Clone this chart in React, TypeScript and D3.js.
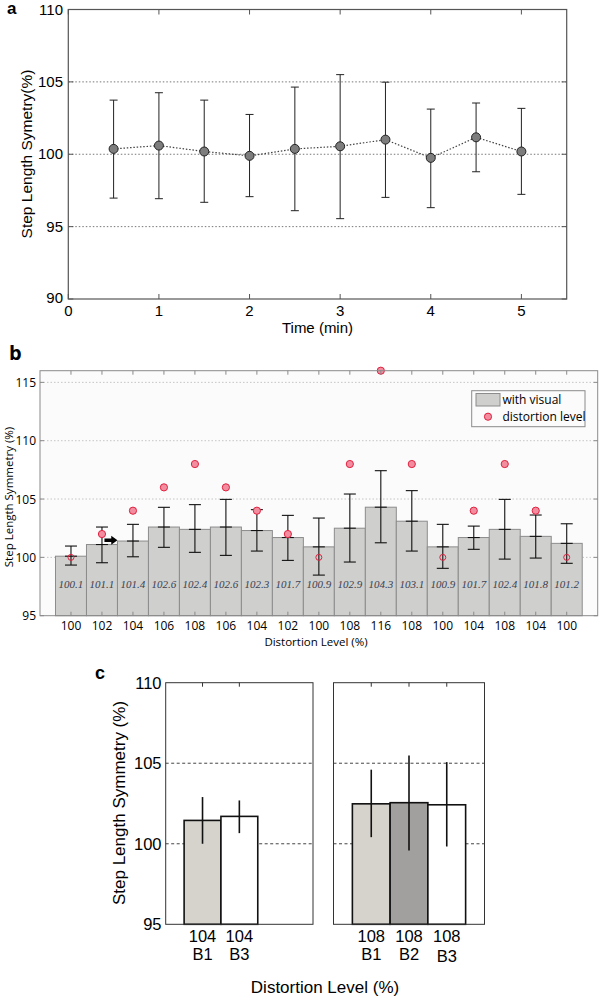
import React from "react";
import * as d3 from "d3";

// ---------- Panel a data ----------
const timeMin = [0.5, 1, 1.5, 2, 2.5, 3, 3.5, 4, 4.5, 5];
const meanA = [100.37, 100.6, 100.19, 99.89, 100.37, 100.55, 101.01, 99.75, 101.17, 100.19];
const upperA = [103.74, 104.25, 103.74, 102.75, 104.64, 105.5, 104.98, 103.12, 103.54, 103.17];
const lowerA = [96.97, 96.93, 96.68, 97.07, 96.1, 95.55, 97.02, 96.31, 98.79, 97.23];
const xTicksA = [0, 1, 2, 3, 4, 5];
const yTicksA = [90, 95, 100, 105, 110];
const gridA = [95, 100, 105];

// ---------- Panel b data ----------
const levelLabels = ["100", "102", "104", "106", "108", "106", "104", "102", "100", "108", "116", "108", "100", "104", "108", "104", "100"];
const distortionLevel = [100, 102, 104, 106, 108, 106, 104, 102, 100, 108, 116, 108, 100, 104, 108, 104, 100];
const barB = [100.1, 101.1, 101.4, 102.6, 102.4, 102.6, 102.3, 101.7, 100.9, 102.5, 104.3, 103.1, 100.9, 101.7, 102.4, 101.8, 101.2];
const barTextB = ["100.1", "101.1", "101.4", "102.6", "102.4", "102.6", "102.3", "101.7", "100.9", "102.9", "104.3", "103.1", "100.9", "101.7", "102.4", "101.8", "101.2"];
const upperB = [100.97, 102.6, 102.83, 104.29, 104.52, 104.97, 104.09, 103.6, 103.37, 105.43, 107.43, 105.72, 102.83, 102.68, 104.97, 103.63, 102.88];
const lowerB = [99.34, 99.54, 100.05, 100.86, 100.43, 100.17, 100.54, 99.74, 98.48, 99.6, 101.25, 100.54, 99.06, 100.69, 99.85, 99.94, 99.49];
const yTicksB = [95, 100, 105, 110, 115];
const gridB = [100, 105, 110, 115];

// ---------- Panel c data ----------
const c1Level = ["104", "104"];
const c1Block = ["B1", "B3"];
const c1Mean = [101.45, 101.7];
const c1Upper = [102.9, 102.69];
const c1Lower = [100.0, 100.66];
const c2Level = ["108", "108", "108"];
const c2Block = ["B1", "B2", "B3"];
const c2Mean = [102.48, 102.55, 102.42];
const c2Upper = [104.6, 105.48, 105.07];
const c2Lower = [100.41, 99.58, 99.83];
const blockColor: Record<string, string> = { B1: "#d6d3cc", B2: "#a2a09f", B3: "#ffffff" };
const yTicksC = [95, 100, 105, 110];
const gridC = [100, 105];

const ARIAL = "'Liberation Sans', Arial, sans-serif";
const MYRIAD = "'Open Sans', 'Noto Sans', sans-serif";
const SERIF = "'Liberation Serif', 'Times New Roman', serif";

function PanelA() {
  const x = d3.scaleLinear().domain([0, 5.5]).range([68.3, 566.7]);
  const y = d3.scaleLinear().domain([90, 110]).range([299, 9.5]);
  const [x0, x1] = x.range();
  const [yb, yt] = y.range();
  const line = d3
    .line<number>()
    .x((_, i) => x(timeMin[i]))
    .y((d) => y(d));
  return (
    <g>
      <text x={7} y={14} fontFamily={ARIAL} fontWeight="bold" fontSize={17}>a</text>
      {gridA.map((v) => (
        <line key={v} x1={x0} x2={x1} y1={y(v)} y2={y(v)} stroke="#777" strokeWidth={1} strokeDasharray="1.5,2" />
      ))}
      <rect x={x0} y={yt} width={x1 - x0} height={yb - yt} fill="none" stroke="#555" strokeWidth={1.2} />
      {xTicksA.map((t) => (
        <g key={t}>
          <line x1={x(t)} x2={x(t)} y1={yb} y2={yb - 5} stroke="#555" />
          <line x1={x(t)} x2={x(t)} y1={yt} y2={yt + 5} stroke="#555" />
          <text x={x(t)} y={316} textAnchor="middle" fontFamily={ARIAL} fontSize={15}>{t}</text>
        </g>
      ))}
      {yTicksA.map((t) => (
        <g key={t}>
          <line x1={x0} x2={x0 + 5} y1={y(t)} y2={y(t)} stroke="#555" />
          <line x1={x1} x2={x1 - 5} y1={y(t)} y2={y(t)} stroke="#555" />
          <text x={63} y={t === 90 ? y(t) + 4 : y(t) + 5} textAnchor="end" fontFamily={ARIAL} fontSize={15}>{t}</text>
        </g>
      ))}
      <text x={317.5} y={333} textAnchor="middle" fontFamily={ARIAL} fontSize={15}>Time (min)</text>
      <text transform={`translate(32,154) rotate(-90)`} textAnchor="middle" fontFamily={ARIAL} fontSize={15.5}>Step Length Symetry(%)</text>
      {meanA.map((m, i) => (
        <g key={i}>
          <line x1={x(timeMin[i])} x2={x(timeMin[i])} y1={y(upperA[i])} y2={y(lowerA[i])} stroke="#222" strokeWidth={1} />
          <line x1={x(timeMin[i]) - 4} x2={x(timeMin[i]) + 4} y1={y(upperA[i])} y2={y(upperA[i])} stroke="#222" />
          <line x1={x(timeMin[i]) - 4} x2={x(timeMin[i]) + 4} y1={y(lowerA[i])} y2={y(lowerA[i])} stroke="#222" />
        </g>
      ))}
      <path d={line(meanA) || ""} fill="none" stroke="#444" strokeWidth={1.2} strokeDasharray="1.5,1.8" />
      {meanA.map((m, i) => (
        <circle key={i} cx={x(timeMin[i])} cy={y(m)} r={4.5} fill="#7d7d7d" stroke="#222" strokeWidth={1} />
      ))}
    </g>
  );
}

function PanelB() {
  const x = d3.scaleLinear().domain([0, 18]).range([40, 597.7]);
  const y = d3.scaleLinear().domain([95, 116]).range([615.7, 370.7]);
  const [x0, x1] = x.range();
  const [yb, yt] = y.range();
  const bw = x(1) - x(0);
  const idx = d3.range(barB.length);
  return (
    <g>
      <text x={9} y={360} fontFamily={MYRIAD} fontWeight="bold" fontSize={20}>b</text>
      <rect x={x0} y={yt} width={x1 - x0} height={yb - yt} fill="#fbfbfb" />
      {gridB.map((v) => (
        <line key={v} x1={x0} x2={x1} y1={y(v)} y2={y(v)} stroke="#b8b8b8" strokeWidth={0.8} strokeDasharray="1.5,2" />
      ))}
      {idx.map((i) => (
        <rect key={i} x={x(i + 0.5)} y={y(barB[i])} width={bw} height={yb - y(barB[i])} fill="#cfcfcd" stroke="#8c8c8c" strokeWidth={1} />
      ))}
      {idx.map((i) => (
        <text key={i} x={x(i + 1)} y={588} textAnchor="middle" fontFamily={SERIF} fontStyle="italic" fontSize={11} fill="#3b4150">{barTextB[i]}</text>
      ))}
      {idx.map((i) => {
        const cx = x(i + 1);
        return (
          <g key={i}>
            <line x1={cx} x2={cx} y1={y(upperB[i])} y2={y(lowerB[i])} stroke="#111" strokeWidth={1.1} />
            <line x1={cx - 6} x2={cx + 6} y1={y(upperB[i])} y2={y(upperB[i])} stroke="#111" strokeWidth={1.1} />
            <line x1={cx - 6} x2={cx + 6} y1={y(lowerB[i])} y2={y(lowerB[i])} stroke="#111" strokeWidth={1.1} />
            <line x1={cx - 6} x2={cx + 6} y1={y(barB[i])} y2={y(barB[i])} stroke="#111" strokeWidth={1.1} />
          </g>
        );
      })}
      {idx.map((i) => {
        const inside = distortionLevel[i] < barB[i];
        return (
          <circle key={i} cx={x(i + 1)} cy={y(distortionLevel[i])} r={inside ? 3 : 3.6}
            fill={inside ? "none" : "#f28da0"} stroke="#e0203f" strokeWidth={1} />
        );
      })}
      {/* arrow annotation */}
      <path
        d={`M${x(2.08)},${y(101.47) - 1.8} L${x(2.3)},${y(101.47) - 1.8} L${x(2.3)},${y(101.47) - 4.5} L${x(2.5)},${y(101.47)} L${x(2.3)},${y(101.47) + 4.5} L${x(2.3)},${y(101.47) + 1.8} L${x(2.08)},${y(101.47) + 1.8} Z`}
        fill="#000"
      />
      <rect x={x0} y={yt} width={x1 - x0} height={yb - yt} fill="none" stroke="#8a8a8a" strokeWidth={1} />
      {idx.map((i) => (
        <g key={i}>
          <line x1={x(i + 1)} x2={x(i + 1)} y1={yt} y2={yt + 4} stroke="#8a8a8a" />
          <line x1={x(i + 1)} x2={x(i + 1)} y1={yb} y2={yb - 4} stroke="#8a8a8a" />
          <text x={x(i + 1)} y={629.5} textAnchor="middle" fontFamily={MYRIAD} fontSize={12}>{levelLabels[i]}</text>
        </g>
      ))}
      {yTicksB.map((t) => (
        <g key={t}>
          <line x1={x0} x2={x0 + 4} y1={y(t)} y2={y(t)} stroke="#8a8a8a" />
          <line x1={x1} x2={x1 - 4} y1={y(t)} y2={y(t)} stroke="#8a8a8a" />
          <text x={36} y={y(t) + 4.5} textAnchor="end" fontFamily={MYRIAD} fontSize={12}>{t}</text>
        </g>
      ))}
      <text x={316} y={645.5} textAnchor="middle" fontFamily={MYRIAD} fontSize={11.5}>Distortion Level (%)</text>
      <text transform={`translate(12.5,497) rotate(-90)`} textAnchor="middle" fontFamily={MYRIAD} fontSize={11.5}>Step Length Symmetry (%)</text>
      {/* legend */}
      <rect x={471.7} y={390.7} width={113.3} height={36} fill="#fbfbfb" stroke="#8a8a8a" strokeWidth={1} />
      <rect x={476} y={393.5} width={24} height={12.5} fill="#cfcfcd" stroke="#8c8c8c" strokeWidth={1} />
      <text x={502.5} y={404} fontFamily={MYRIAD} fontSize={12}>with visual</text>
      <circle cx={488} cy={416.7} r={3.6} fill="#f28da0" stroke="#e0203f" strokeWidth={1} />
      <text x={502.5} y={421} fontFamily={MYRIAD} fontSize={12}>distortion level</text>
    </g>
  );
}

function SubC({ x0, x1, mean, upper, lower, level, block, showY }: any) {
  const x = d3.scaleLinear().domain([0, 4]).range([x0, x1]);
  const y = d3.scaleLinear().domain([95, 110]).range([924.3, 682.7]);
  const [yb, yt] = y.range();
  const bw = x(1) - x(0);
  const idx = d3.range(mean.length);
  return (
    <g>
      <rect x={x0} y={yt} width={x1 - x0} height={yb - yt} fill="#fff" />
      {gridC.map((v) => (
        <line key={v} x1={x0} x2={x1} y1={y(v)} y2={y(v)} stroke="#444" strokeWidth={1} strokeDasharray="3,2.5" />
      ))}
      {idx.map((i) => (
        <rect key={i} x={x(i + 0.5)} y={y(mean[i])} width={bw} height={yb - y(mean[i])} fill={blockColor[block[i]]} stroke="#111" strokeWidth={1.6} />
      ))}
      {idx.map((i) => (
        <line key={i} x1={x(i + 1)} x2={x(i + 1)} y1={y(upper[i])} y2={y(lower[i])} stroke="#111" strokeWidth={1.6} />
      ))}
      <rect x={x0} y={yt} width={x1 - x0} height={yb - yt} fill="none" stroke="#333" strokeWidth={1} />
      {idx.map((i) => (
        <g key={i}>
          <line x1={x(i + 1)} x2={x(i + 1)} y1={yt} y2={yt + 4} stroke="#333" />
          <text x={x(i + 1)} y={942} textAnchor="middle" fontFamily={ARIAL} fontSize={16.5}>{level[i]}</text>
          <text x={x(i + 1)} y={block[i] === "B3" && mean.length === 3 ? 962 : 960} textAnchor="middle" fontFamily={ARIAL} fontSize={16.5}>{block[i]}</text>
        </g>
      ))}
      {showY &&
        yTicksC.map((t) => (
          <text key={t} x={161.5} y={y(t) + 6} textAnchor="end" fontFamily={ARIAL} fontSize={16.5}>{t}</text>
        ))}
    </g>
  );
}

function PanelC() {
  return (
    <g>
      <text x={95} y={679} fontFamily={ARIAL} fontWeight="bold" fontSize={18}>c</text>
      <SubC x0={165.7} x1={313} mean={c1Mean} upper={c1Upper} lower={c1Lower} level={c1Level} block={c1Block} showY={true} />
      <SubC x0={333.5} x1={484.5} mean={c2Mean} upper={c2Upper} lower={c2Lower} level={c2Level} block={c2Block} showY={false} />
      <text transform={`translate(125,803) rotate(-90)`} textAnchor="middle" fontFamily={ARIAL} fontSize={17}>Step Length Symmetry (%)</text>
      <text x={325} y={993} textAnchor="middle" fontFamily={ARIAL} fontSize={17}>Distortion Level (%)</text>
    </g>
  );
}

export default function App() {
  return (
    <div style={{ position: "absolute", left: 0, top: 0 }}>
      <svg width={600} height={997} viewBox="0 0 600 997" style={{ display: "block", background: "#fff" }}>
        <PanelA />
        <PanelB />
        <PanelC />
      </svg>
    </div>
  );
}
